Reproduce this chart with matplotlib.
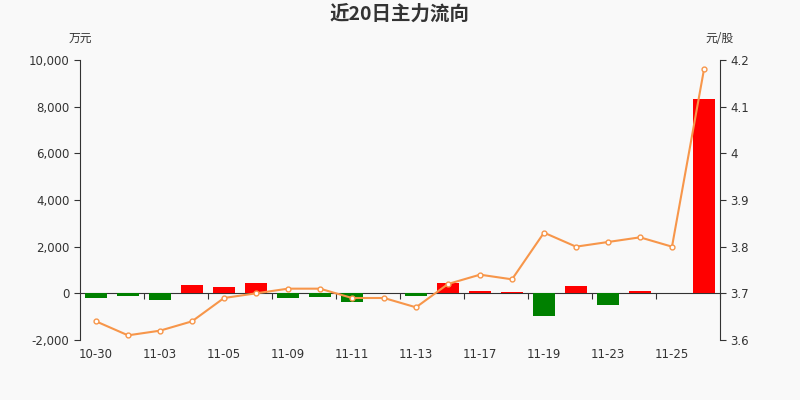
import matplotlib
matplotlib.use("Agg")
import matplotlib.pyplot as plt
import numpy as np

plt.rcParams["font.family"] = ["DejaVu Sans", "Noto Sans CJK SC"]

dates = ["10-30", "10-31", "11-03", "11-04", "11-05", "11-06", "11-09", "11-10",
         "11-11", "11-12", "11-13", "11-16", "11-17", "11-18", "11-19", "11-20",
         "11-23", "11-24", "11-25", "11-26"]
flow = [-210, -100, -300, 340, 285, 430, -215, -145, -385, 0,
        -100, 430, 85, 55, -970, 315, -485, 85, 0, 8310]
price = [3.64, 3.61, 3.62, 3.64, 3.69, 3.70, 3.71, 3.71, 3.69, 3.69,
         3.67, 3.72, 3.74, 3.73, 3.83, 3.80, 3.81, 3.82, 3.80, 4.18]

BG = "#f9f9f9"
AXC = "#333333"

fig = plt.figure(figsize=(8, 4), dpi=100, facecolor=BG)
ax = fig.add_axes([0.1, 0.15, 0.8, 0.7], facecolor=BG)
x = np.arange(len(dates))
colors = ["#ff0000" if v >= 0 else "#008000" for v in flow]
ax.bar(x, flow, width=0.7, color=colors, linewidth=0, zorder=2)
ax.set_xlim(-0.5, len(dates) - 0.5)
ax.set_ylim(-2000, 10000)
ax.set_yticks(range(-2000, 10001, 2000))
ax.set_yticklabels([f"{v:,}" for v in range(-2000, 10001, 2000)])
for s in ["top", "right", "bottom"]:
    ax.spines[s].set_visible(False)
ax.spines["left"].set_color(AXC)
ax.tick_params(axis="y", colors=AXC, labelsize=8.5, length=4)

# date labels at bottom, no tick marks
ax.set_xticks(x[::2])
ax.set_xticklabels(dates[::2])
ax.tick_params(axis="x", length=0, labelsize=8.5, colors=AXC, pad=6)

# zero line with tick marks at category boundaries
zero = ax.secondary_xaxis(2000 / 12000)
zero.spines["bottom"].set_color(AXC)
zero.set_xticks(np.arange(1.5, len(dates), 2))
zero.set_xticklabels([])
zero.tick_params(axis="x", length=4, colors=AXC)

ax2 = ax.twinx()
ax2.plot(x, price, color="#f7964a", lw=1.5, marker="o", ms=3.5,
         mfc="white", mec="#f7964a", mew=1, zorder=3)
ax2.set_ylim(3.6, 4.2)
ax2.set_yticks([3.6, 3.7, 3.8, 3.9, 4.0, 4.1, 4.2])
ax2.set_yticklabels(["3.6", "3.7", "3.8", "3.9", "4", "4.1", "4.2"])
for s in ["top", "left", "bottom"]:
    ax2.spines[s].set_visible(False)
ax2.spines["right"].set_color(AXC)
ax2.tick_params(axis="y", colors=AXC, labelsize=8.5, length=4)

fig.text(0.5, 0.965, "近20日主力流向", ha="center", va="center",
         fontsize=14, fontweight="bold", color=AXC,
         family=["Noto Sans CJK SC", "DejaVu Sans"])
fig.text(0.1, 0.905, "万元", ha="center", va="center", fontsize=8.5,
         color=AXC, family=["Noto Sans CJK SC", "DejaVu Sans"])
fig.text(0.899, 0.905, "元/股", ha="center", va="center", fontsize=8.5,
         color=AXC, family=["Noto Sans CJK SC", "DejaVu Sans"])

fig.savefig("out.png", dpi=100, facecolor=BG)
